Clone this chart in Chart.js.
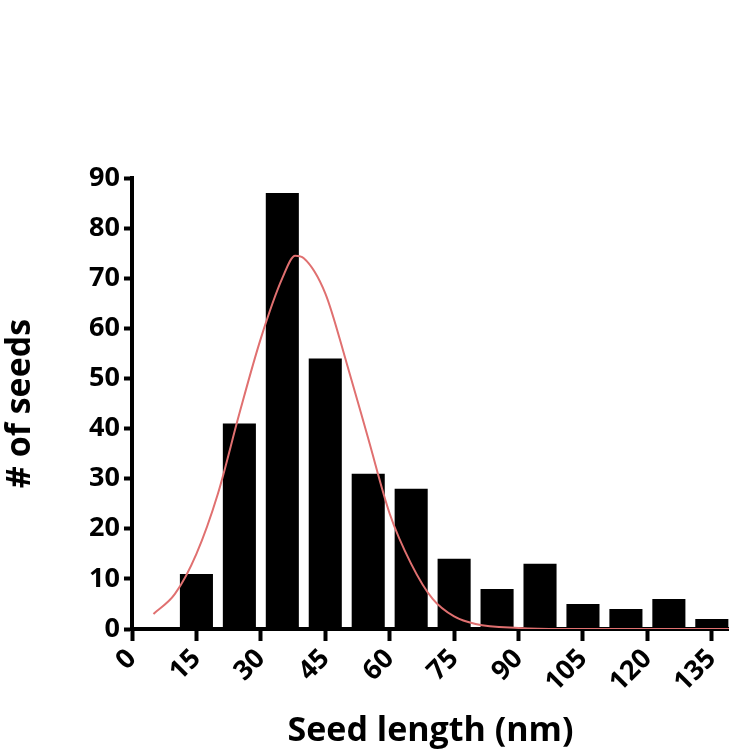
<!DOCTYPE html><html><head><script src="https://cdn.jsdelivr.net/npm/chart.js@4"></script>
<style>body{margin:0;background:#fff}#w{width:729px;height:752px}</style></head><body><div id="w"><canvas id="c"></canvas></div><script>
const binCenters=[15,25,35,45,55,65,75,85,95,105,115,125,135];
const counts=[11,41,87,54,31,28,14,8,13,5,4,6,2];
const fitX=[5,10,15,20,25,30,35,38,40,45,50,55,60,65,70,75,80,90,100,139];
const fitY=[3,7,15,27,43,58,70,74.5,74,67,53,38,23,13,6,2.5,1,0.2,0,0];
const xTicks=[0,15,30,45,60,75,90,105,120,135];
const F="'Open Sans', sans-serif";
new Chart(document.getElementById('c'),{
data:{datasets:[
{type:'bar',data:binCenters.map((x,i)=>({x,y:counts[i]})),backgroundColor:'#000',barPercentage:0.77,categoryPercentage:1,order:2},
{type:'line',data:fitX.map((x,i)=>({x,y:fitY[i]})),borderColor:'#e07070',borderWidth:2,pointRadius:0,tension:0.4,cubicInterpolationMode:'monotone',order:1}
]},
options:{responsive:true,maintainAspectRatio:false,animation:false,
layout:{padding:{top:178,right:0,left:0,bottom:0}},
plugins:{legend:{display:false},tooltip:{enabled:false}},
scales:{
x:{type:'linear',offset:false,min:0,max:139,afterBuildTicks:s=>{s.ticks=xTicks.map(v=>({value:v}))},
 grid:{display:true,offset:false,drawOnChartArea:false,tickLength:12,tickWidth:4,color:'#000'},border:{width:4,color:'#000'},
 ticks:{color:'#000',font:{family:F,size:27,weight:'bold'},maxRotation:45,minRotation:45,padding:2},
 title:{display:true,text:'Seed length (nm)',color:'#000',font:{family:F,size:34,weight:'bold'},padding:0},
 afterFit:s=>{s.height=123;s.paddingRight=0;s.paddingLeft=0}},
y:{min:0,max:90,afterBuildTicks:s=>{s.ticks=[0,10,20,30,40,50,60,70,80,90].map(v=>({value:v}))},
 grid:{display:true,drawOnChartArea:false,tickLength:8,tickWidth:4,color:'#000'},border:{width:4,color:'#000'},
 ticks:{color:'#000',font:{family:F,size:27,weight:'bold'},padding:4},
 title:{display:true,text:'# of seeds',color:'#000',font:{family:F,size:34,weight:'bold'},padding:0},
 afterFit:s=>{s.width=132;s.paddingTop=0;s.paddingBottom=0}}
}}});
</script></body></html>
